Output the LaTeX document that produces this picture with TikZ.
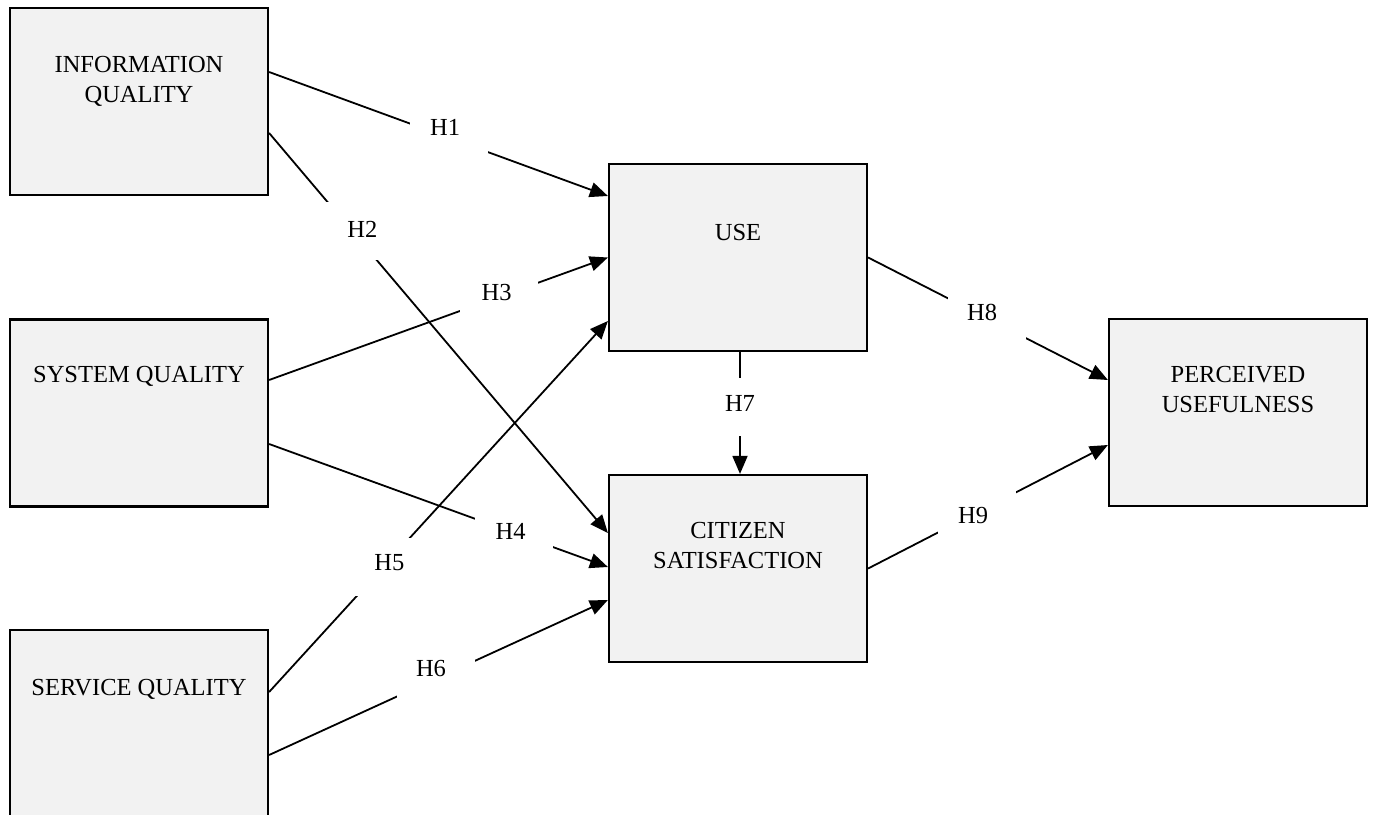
\documentclass[tikz,border=0pt]{standalone}
\usepackage{fontspec}
\setmainfont{Liberation Serif}
\usetikzlibrary{arrows.meta}
\definecolor{boxgray}{HTML}{F2F2F2}
\begin{document}
\begin{tikzpicture}[x=1pt,y=-1pt,
  box/.style={draw=black, line width=2.2pt, fill=boxgray, minimum width=258pt, minimum height=187pt, inner sep=0pt},
  btext/.style={font=\fontsize{24.5}{30.5}\selectfont, align=center, anchor=north, inner sep=0pt},
  conn/.style={line width=1.8pt, -{Triangle[length=18pt,width=15pt]}},
  gap/.style={fill=white, minimum width=78pt, minimum height=58pt, inner sep=0pt},
  hlab/.style={font=\fontsize{24.5}{30}\selectfont, inner sep=0pt}]
\clip (0,0) rectangle (1376,814);
\fill[white] (0,0) rectangle (1376,814);
% boxes
\node[box] (info) at (139,101.5) {};
\node[btext] (infot) at ([yshift=-49pt]info.north) {INFORMATION\\QUALITY};
\node[box] (system) at (139,413) {};
\node[btext] (systemt) at ([yshift=-48pt]system.north) {SYSTEM QUALITY};
\node[box] (service) at (139,723.5) {};
\node[btext] (servicet) at ([yshift=-50pt]service.north) {SERVICE QUALITY};
\node[box] (use) at (738,257.5) {};
\node[btext] (uset) at ([yshift=-61pt]use.north) {USE};
\node[box] (citizen) at (738,568.5) {};
\node[btext] (citizent) at ([yshift=-48pt]citizen.north) {CITIZEN\\SATISFACTION};
\node[box] (perc) at (1238,412.5) {};
\node[btext] (perct) at ([yshift=-48pt]perc.north) {PERCEIVED\\USEFULNESS};
% connectors
\draw[conn] ([yshift=29.5pt]info.east) -- ([yshift=61.5pt]use.west)
  node[gap,pos=.53,label={[hlab,xshift=-3.5pt,yshift=10pt]center:H1}] (g1) {};
\draw[conn] ([yshift=-31.5pt]info.east) -- ([yshift=35.5pt]citizen.west)
  node[gap,pos=.246,label={[hlab,xshift=10pt,yshift=2.5pt]center:H2}] (g2) {};
\draw[conn] ([yshift=33pt]system.east) -- (use.west)
  node[gap,pos=.679,label={[hlab,xshift=-2.5pt,yshift=4pt]center:H3}] (g3) {};
\draw[conn] ([yshift=-31pt]system.east) -- ([yshift=1.5pt]citizen.west)
  node[gap,pos=.723,label={[hlab,xshift=-3.5pt,yshift=2pt]center:H4}] (g4) {};
\draw[conn] ([yshift=31.5pt]service.east) -- ([yshift=-63.5pt]use.west)
  node[gap,pos=.336,label={[hlab,xshift=6.5pt,yshift=5pt]center:H5}] (g5) {};
\draw[conn] ([yshift=-31.5pt]service.east) -- ([yshift=-31.5pt]citizen.west)
  node[gap,pos=.494,label={[hlab,xshift=-5.5pt,yshift=9.5pt]center:H6}] (g6) {};
\draw[conn] ([xshift=2pt]use.south) -- ([xshift=2pt]citizen.north)
  node[gap,pos=.45,label={[hlab,yshift=3pt]center:H7}] (g7) {};
\draw[conn] (use.east) -- ([yshift=32.5pt]perc.west)
  node[gap,pos=.496,label={[hlab,xshift=-5pt,yshift=5.5pt]center:H8}] (g8) {};
\draw[conn] (citizen.east) -- ([yshift=-32.5pt]perc.west)
  node[gap,pos=.455,label={[hlab,xshift=-4pt,yshift=-3pt]center:H9}] (g9) {};
\end{tikzpicture}
\end{document}
